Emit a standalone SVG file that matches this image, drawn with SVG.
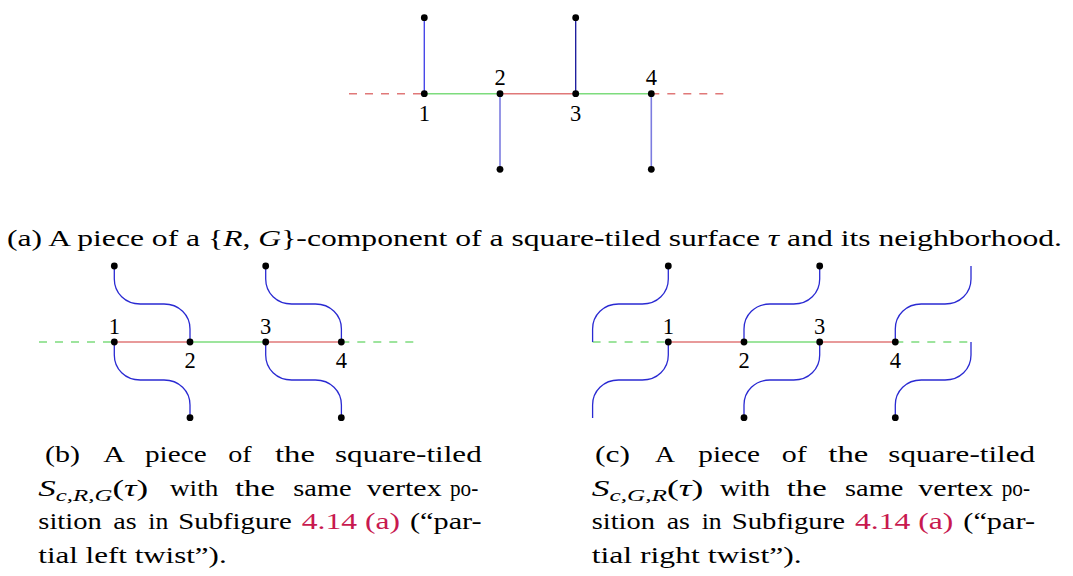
<svg xmlns="http://www.w3.org/2000/svg" xmlns:xlink="http://www.w3.org/1999/xlink" width="1073" height="576" viewBox="0 0 1073 576">
<style>
.t{font-family:"Liberation Serif","Times New Roman",Times,serif;font-size:22.5px;fill:#000}
.lbl{font-family:"Liberation Serif","Times New Roman",Times,serif;font-size:22.5px;fill:#000;text-anchor:middle}
.it{font-style:italic}
.sub{font-size:16px;font-style:italic}
.lk{fill:#c8194f}
.dot{fill:#000}
.g{stroke:#7ddc7d;stroke-width:1.6;fill:none}
.r{stroke:#e07878;stroke-width:1.6;fill:none}
.dash{stroke-dasharray:8 8}
.b{stroke:#2a2ad2;stroke-width:1.3;fill:none}
</style>
<defs>
<path id="sL" d="M0,0 L0,13 C0,27 11,38 26,38 L49.7,38 C64.7,38 75.7,49 75.7,63 L75.7,76"/>
<path id="sR" d="M0,0 L0,13 C0,27 -11,38 -26,38 L-49.7,38 C-64.7,38 -75.7,49 -75.7,63 L-75.7,76"/>
</defs>

<!-- connectors -->
<g id="connectors">
  <!-- (a) -->
  <line class="r dash" x1="349" y1="93.7" x2="424.3" y2="93.7"/>
  <line class="g" x1="424.3" y1="93.7" x2="500" y2="93.7"/>
  <line class="r" x1="500" y1="93.7" x2="575.7" y2="93.7"/>
  <line class="g" x1="575.7" y1="93.7" x2="651.3" y2="93.7"/>
  <line class="r dash" x1="651.3" y1="93.7" x2="726" y2="93.7"/>
  <line x1="424.3" y1="17.7" x2="424.3" y2="93.7" stroke="#4848e8" stroke-width="1.4"/>
  <line x1="500" y1="93.7" x2="500" y2="169.3" stroke="#7c7ce0" stroke-width="1.6"/>
  <line x1="575.7" y1="17.7" x2="575.7" y2="93.7" stroke="#14149a" stroke-width="1.3"/>
  <line x1="651.3" y1="93.7" x2="651.3" y2="169.3" stroke="#7c7ce0" stroke-width="1.6"/>
  <!-- (b) -->
  <line class="g dash" x1="39" y1="342" x2="114.3" y2="342"/>
  <line class="r" x1="114.3" y1="342" x2="190" y2="342"/>
  <line class="g" x1="190" y1="342" x2="265.7" y2="342"/>
  <line class="r" x1="265.7" y1="342" x2="341.3" y2="342"/>
  <line class="g dash" x1="341.3" y1="342" x2="414" y2="342"/>
  <use xlink:href="#sL" href="#sL" class="b" x="114.3" y="266"/>
  <use xlink:href="#sL" href="#sL" class="b" x="114.3" y="342"/>
  <use xlink:href="#sL" href="#sL" class="b" x="265.7" y="266"/>
  <use xlink:href="#sL" href="#sL" class="b" x="265.7" y="342"/>
  <!-- (c) -->
  <line class="g dash" x1="592.6" y1="342" x2="668.3" y2="342"/>
  <line class="r" x1="668.3" y1="342" x2="744" y2="342"/>
  <line class="g" x1="744" y1="342" x2="819.7" y2="342"/>
  <line class="r" x1="819.7" y1="342" x2="895.3" y2="342"/>
  <line class="g dash" x1="895.3" y1="342" x2="969" y2="342"/>
  <use xlink:href="#sR" href="#sR" class="b" x="668.3" y="266"/>
  <use xlink:href="#sR" href="#sR" class="b" x="668.3" y="342"/>
  <use xlink:href="#sR" href="#sR" class="b" x="819.7" y="266"/>
  <use xlink:href="#sR" href="#sR" class="b" x="819.7" y="342"/>
  <use xlink:href="#sR" href="#sR" class="b" x="971" y="266"/>
  <use xlink:href="#sR" href="#sR" class="b" x="971" y="342"/>
</g>

<!-- (a) nodes -->
<g id="a-top1"><circle class="dot" cx="424.3" cy="17.7" r="3.4"/></g>
<g id="a-top3"><circle class="dot" cx="575.7" cy="17.7" r="3.4"/></g>
<g id="a-bot2"><circle class="dot" cx="500" cy="169.3" r="3.4"/></g>
<g id="a-bot4"><circle class="dot" cx="651.3" cy="169.3" r="3.4"/></g>
<g id="a-v1"><circle class="dot" cx="424.3" cy="93.7" r="3.4"/><text class="lbl" x="424.3" y="121">1</text></g>
<g id="a-v2"><circle class="dot" cx="500" cy="93.7" r="3.4"/><text class="lbl" x="500" y="85">2</text></g>
<g id="a-v3"><circle class="dot" cx="575.7" cy="93.7" r="3.4"/><text class="lbl" x="575.7" y="121">3</text></g>
<g id="a-v4"><circle class="dot" cx="651.3" cy="93.7" r="3.4"/><text class="lbl" x="651.3" y="85">4</text></g>

<!-- (b) nodes -->
<g id="b-top1"><circle class="dot" cx="114.3" cy="266" r="3.4"/></g>
<g id="b-top3"><circle class="dot" cx="265.7" cy="266" r="3.4"/></g>
<g id="b-bot2"><circle class="dot" cx="190" cy="417.7" r="3.4"/></g>
<g id="b-bot4"><circle class="dot" cx="341.3" cy="417.7" r="3.4"/></g>
<g id="b-v1"><circle class="dot" cx="114.3" cy="342" r="3.4"/><text class="lbl" x="114.3" y="334">1</text></g>
<g id="b-v2"><circle class="dot" cx="190" cy="342" r="3.4"/><text class="lbl" x="190" y="368.3">2</text></g>
<g id="b-v3"><circle class="dot" cx="265.7" cy="342" r="3.4"/><text class="lbl" x="265.7" y="334">3</text></g>
<g id="b-v4"><circle class="dot" cx="341.3" cy="342" r="3.4"/><text class="lbl" x="341.3" y="368.3">4</text></g>

<!-- (c) nodes -->
<g id="c-top1"><circle class="dot" cx="668.3" cy="266" r="3.4"/></g>
<g id="c-top3"><circle class="dot" cx="819.7" cy="266" r="3.4"/></g>
<g id="c-bot2"><circle class="dot" cx="744" cy="417.7" r="3.4"/></g>
<g id="c-bot4"><circle class="dot" cx="895.3" cy="417.7" r="3.4"/></g>
<g id="c-v1"><circle class="dot" cx="668.3" cy="342" r="3.4"/><text class="lbl" x="668.3" y="334">1</text></g>
<g id="c-v2"><circle class="dot" cx="744" cy="342" r="3.4"/><text class="lbl" x="744" y="368.3">2</text></g>
<g id="c-v3"><circle class="dot" cx="819.7" cy="342" r="3.4"/><text class="lbl" x="819.7" y="334">3</text></g>
<g id="c-v4"><circle class="dot" cx="895.3" cy="342" r="3.4"/><text class="lbl" x="895.3" y="368.3">4</text></g>

<!-- captions -->
<g id="caption-a">
  <text class="t" x="7" y="246" textLength="1055" lengthAdjust="spacingAndGlyphs">(a) A piece of a {<tspan class="it">R</tspan>, <tspan class="it">G</tspan>}-component of a square-tiled surface <tspan class="it">τ</tspan> and its neighborhood.</text>
</g>

<g id="caption-b">
  <text class="t" x="45" y="462" textLength="35" lengthAdjust="spacingAndGlyphs">(b)</text>
  <text class="t" x="103.3" y="462" textLength="21.7" lengthAdjust="spacingAndGlyphs">A</text>
  <text class="t" x="145" y="462" textLength="61.7" lengthAdjust="spacingAndGlyphs">piece</text>
  <text class="t" x="228.3" y="462" textLength="23.4" lengthAdjust="spacingAndGlyphs">of</text>
  <text class="t" x="275" y="462" textLength="40" lengthAdjust="spacingAndGlyphs">the</text>
  <text class="t" x="335" y="462" textLength="146.7" lengthAdjust="spacingAndGlyphs">square-tiled</text>

  <text class="t" x="38.3" y="495.5" textLength="110" lengthAdjust="spacingAndGlyphs"><tspan class="it">S</tspan><tspan class="sub" dy="5">c,R,G</tspan><tspan dy="-5">(</tspan><tspan class="it">τ</tspan>)</text>
  <text class="t" x="170" y="495.5" textLength="48.3" lengthAdjust="spacingAndGlyphs">with</text>
  <text class="t" x="235" y="495.5" textLength="40" lengthAdjust="spacingAndGlyphs">the</text>
  <text class="t" x="293.3" y="495.5" textLength="58.4" lengthAdjust="spacingAndGlyphs">same</text>
  <text class="t" x="366.7" y="495.5" textLength="75" lengthAdjust="spacingAndGlyphs">vertex</text>
  <text class="t" x="450" y="495.5" textLength="28.3" lengthAdjust="spacingAndGlyphs">po-</text>

  <text class="t" x="38.3" y="529" textLength="63.4" lengthAdjust="spacingAndGlyphs">sition</text>
  <text class="t" x="113.3" y="529" textLength="23.4" lengthAdjust="spacingAndGlyphs">as</text>
  <text class="t" x="148.3" y="529" textLength="20" lengthAdjust="spacingAndGlyphs">in</text>
  <text class="t" x="178.3" y="529" textLength="113.4" lengthAdjust="spacingAndGlyphs">Subfigure</text>
  <text class="t lk" x="301.7" y="529" textLength="98.3" lengthAdjust="spacingAndGlyphs">4.14 (a)</text>
  <text class="t" x="410" y="529" textLength="71.7" lengthAdjust="spacingAndGlyphs">(“par-</text>

  <text class="t" x="38.3" y="562.5" textLength="188.4" lengthAdjust="spacingAndGlyphs">tial left twist”).</text>
</g>

<g id="caption-c">
  <text class="t" x="595" y="462" textLength="35" lengthAdjust="spacingAndGlyphs">(c)</text>
  <text class="t" x="655" y="462" textLength="20" lengthAdjust="spacingAndGlyphs">A</text>
  <text class="t" x="698.3" y="462" textLength="61.7" lengthAdjust="spacingAndGlyphs">piece</text>
  <text class="t" x="781.7" y="462" textLength="25" lengthAdjust="spacingAndGlyphs">of</text>
  <text class="t" x="828.3" y="462" textLength="40" lengthAdjust="spacingAndGlyphs">the</text>
  <text class="t" x="888.3" y="462" textLength="146.7" lengthAdjust="spacingAndGlyphs">square-tiled</text>

  <text class="t" x="591.7" y="495.5" textLength="111.6" lengthAdjust="spacingAndGlyphs"><tspan class="it">S</tspan><tspan class="sub" dy="5">c,G,R</tspan><tspan dy="-5">(</tspan><tspan class="it">τ</tspan>)</text>
  <text class="t" x="720" y="495.5" textLength="50" lengthAdjust="spacingAndGlyphs">with</text>
  <text class="t" x="786.7" y="495.5" textLength="40" lengthAdjust="spacingAndGlyphs">the</text>
  <text class="t" x="845" y="495.5" textLength="58.3" lengthAdjust="spacingAndGlyphs">same</text>
  <text class="t" x="918.3" y="495.5" textLength="75" lengthAdjust="spacingAndGlyphs">vertex</text>
  <text class="t" x="1001.7" y="495.5" textLength="28.3" lengthAdjust="spacingAndGlyphs">po-</text>

  <text class="t" x="591.7" y="529" textLength="63.3" lengthAdjust="spacingAndGlyphs">sition</text>
  <text class="t" x="666.7" y="529" textLength="23.3" lengthAdjust="spacingAndGlyphs">as</text>
  <text class="t" x="701.7" y="529" textLength="20" lengthAdjust="spacingAndGlyphs">in</text>
  <text class="t" x="731.7" y="529" textLength="113.3" lengthAdjust="spacingAndGlyphs">Subfigure</text>
  <text class="t lk" x="855" y="529" textLength="98.3" lengthAdjust="spacingAndGlyphs">4.14 (a)</text>
  <text class="t" x="963.3" y="529" textLength="71.7" lengthAdjust="spacingAndGlyphs">(“par-</text>

  <text class="t" x="591.7" y="562.5" textLength="210" lengthAdjust="spacingAndGlyphs">tial right twist”).</text>
</g>
</svg>
